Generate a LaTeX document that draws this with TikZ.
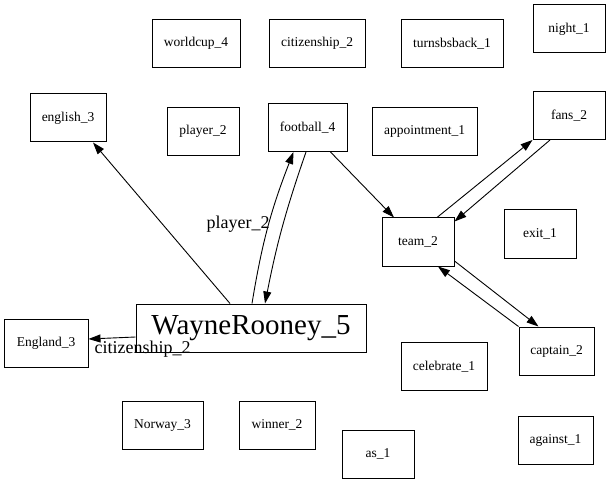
\documentclass[tikz,border=0pt]{standalone}
\usepackage{fontspec}
\setmainfont{Liberation Serif}
\usetikzlibrary{arrows.meta}

\begin{document}
\begin{tikzpicture}[x=1pt, y=-1pt]
  \tikzset{
    concept/.style={draw, line width=1pt, minimum height=48pt, inner sep=2pt,
      font=\fontsize{13.5}{16}\selectfont},
    bigconcept/.style={concept, font=\fontsize{29}{32}\selectfont},
    rel/.style={-{Triangle[length=12pt, width=8pt]}, line width=0.9pt},
    rellabel/.style={inner sep=1pt, font=\fontsize{18}{20}\selectfont}
  }
  \useasboundingbox (0,0) rectangle (611,484);

  % top row
  \node[concept, minimum width=88pt] (worldcup) at (196,43.5) {worldcup\_4};
  \node[concept, minimum width=96pt] (citizenship) at (317,43.5) {citizenship\_2};
  \node[concept, minimum width=102pt] (turnsback) at (452,43.5) {turnsbsback\_1};
  \node[concept, minimum width=72pt] (night) at (569,29) {night\_1};

  % second row
  \node[concept, minimum width=76pt] (english) at (68,118) {english\_3};
  \node[concept, minimum width=72pt] (player) at (203,131.5) {player\_2};
  \node[concept, minimum width=79pt] (football) at (307.5,127.5) {football\_4};
  \node[concept, minimum width=105pt] (appointment) at (424.5,131.5) {appointment\_1};
  \node[concept, minimum width=72pt] (fans) at (569,115.5) {fans\_2};

  % middle
  \node[concept, minimum width=72pt] (team) at (418,242) {team\_2};
  \node[concept, minimum width=72pt] (exit) at (540,234) {exit\_1};
  \node[bigconcept, minimum width=230pt] (wayne) at (251,328) {WayneRooney\_5};
  \node[concept, minimum width=84pt] (england) at (46,343) {England\_3};
  \node[concept, minimum width=75pt] (captain) at (556.5,351) {captain\_2};
  \node[concept, minimum width=86pt] (celebrate) at (444,366.5) {celebrate\_1};

  % bottom row
  \node[concept, minimum width=81pt] (norway) at (162.5,425) {Norway\_3};
  \node[concept, minimum width=76pt] (winner) at (277,425) {winner\_2};
  \node[concept, minimum width=72pt] (as) at (378,454) {as\_1};
  \node[concept, minimum width=75pt] (against) at (555.5,440) {against\_1};

  % relations
  \draw[rel] ([xshift=-21pt]wayne.north) -- ([xshift=25pt]english.south);
  \draw[rel] ([xshift=1pt]wayne.north) to[bend left=6]
    node[rellabel, left, pos=0.5, xshift=3pt, yshift=2pt] {player\_2} ([xshift=-14pt]football.south);
  \draw[rel] ([xshift=-1.5pt]football.south) to[bend right=4] ([xshift=14pt]wayne.north);
  \draw[rel] ([yshift=-9pt]wayne.west) -- ([yshift=4pt]england.east)
    node[rellabel, at start, anchor=north, xshift=7pt, yshift=-3pt] {citizenship\_2};
  \draw[rel] ([xshift=23pt]football.south) -- ([xshift=-24pt]team.north);
  \draw[rel] ([xshift=19pt]team.north) -- (fans.south west);
  \draw[rel] ([xshift=-19pt]fans.south) -- ([yshift=-4pt]team.north east);
  \draw[rel] ([yshift=-19pt]team.east) -- ([xshift=-18pt]captain.north);
  \draw[rel] (captain.north west) -- ([xshift=20pt]team.south);
\end{tikzpicture}
\end{document}
